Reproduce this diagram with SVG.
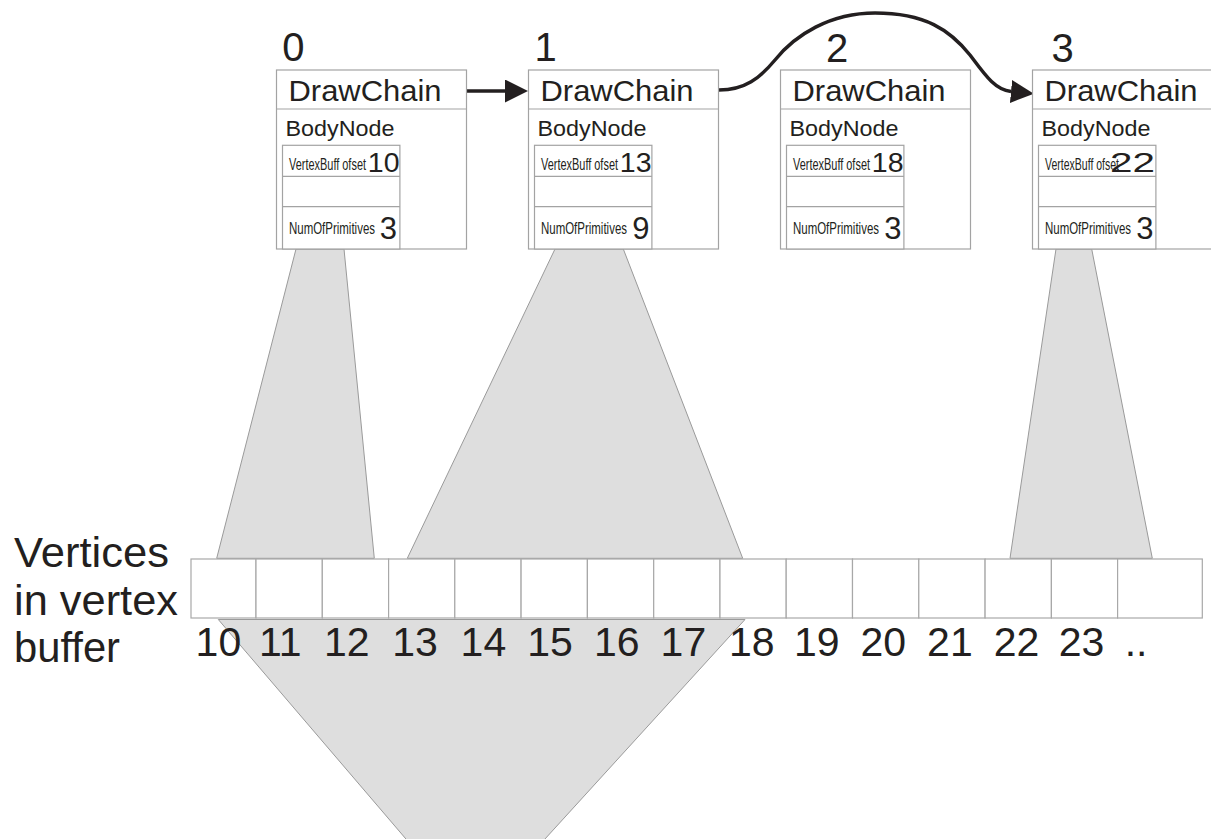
<svg xmlns="http://www.w3.org/2000/svg" width="1211" height="839" viewBox="0 0 1211 839">
  <defs>
    <style>
      text { font-family: "Liberation Sans", Arial, sans-serif; fill: #231f20; }
      .idx { font-size: 40px; }
      .title { font-size: 29.5px; }
      .body { font-size: 22px; }
      .small { font-size: 16.5px; }
      .val { font-size: 28.5px; }
      .cnt { font-size: 31px; }
      .vnum { font-size: 41px; }
      .side { font-size: 42px; }
      .box { fill: #ffffff; stroke: #a3a3a3; stroke-width: 1.2; }
      .rule { stroke: #a3a3a3; stroke-width: 1.2; fill: none; }
      .funnel { fill: #dedede; stroke: #9a9a9a; stroke-width: 1; }
      .cell { fill: #ffffff; stroke: #a8a8a8; stroke-width: 1.2; }
      .link { fill: none; stroke: #231f20; stroke-width: 3.5; }
    </style>
    <marker id="head" markerUnits="userSpaceOnUse" markerWidth="26" markerHeight="26" refX="0" refY="11.5" orient="auto">
      <path d="M0,0 L23,11.5 L0,23 z" fill="#231f20"/>
    </marker>
  </defs>

  <!-- ranges of the vertex buffer used by each chain element -->
  <g id="funnels">
    <polygon class="funnel" points="296,249 344,249 374.3,558.3 216.7,558.3"/>
    <polygon class="funnel" points="555,249 623.3,249 742.7,558.3 407.3,558.3"/>
    <polygon class="funnel" points="1056,249 1091.7,249 1152.3,558.3 1010,558.3"/>
    <polygon class="funnel" points="218.3,619.5 745,619.5 539.5,845 411.1,845"/>
  </g>

  <!-- links between chain elements -->
  <g id="connectors">
    <path class="link" d="M467,91 H505" marker-end="url(#head)"/>
    <path class="link" d="M719,90 C745,90 760,78 775,60 C795,35 830,13 875,13 C925,13 950,30 970,55 C985,75 995,90 1011,91.5" marker-end="url(#head)"/>
  </g>

  <!-- chain element 0 -->
  <g id="node0">
    <text class="idx" x="282.3" y="61">0</text>
    <rect class="box" x="276.5" y="70" width="190" height="179"/>
    <line class="rule" x1="276.5" y1="109" x2="466.5" y2="109"/>
    <text class="title" x="288.5" y="101" textLength="153" lengthAdjust="spacingAndGlyphs">DrawChain</text>
    <text class="body" x="285.5" y="135.7" textLength="109" lengthAdjust="spacingAndGlyphs">BodyNode</text>
    <rect class="box" x="282.5" y="145.3" width="117.4" height="103.7"/>
    <line class="rule" x1="282.5" y1="176.3" x2="399.9" y2="176.3"/>
    <line class="rule" x1="282.5" y1="206.7" x2="399.9" y2="206.7"/>
    <text class="small" x="289" y="169.5" textLength="77" lengthAdjust="spacingAndGlyphs">VertexBuff ofset</text>
    <text class="val" x="399.5" y="172.3" text-anchor="end">10</text>
    <text class="small" x="289" y="234.3" textLength="86" lengthAdjust="spacingAndGlyphs">NumOfPrimitives</text>
    <text class="cnt" x="397" y="239.3" text-anchor="end">3</text>
  </g>

  <!-- chain element 1 -->
  <g id="node1">
    <text class="idx" x="534.6" y="61">1</text>
    <rect class="box" x="528.5" y="70" width="190" height="179"/>
    <line class="rule" x1="528.5" y1="109" x2="718.5" y2="109"/>
    <text class="title" x="540.5" y="101" textLength="153" lengthAdjust="spacingAndGlyphs">DrawChain</text>
    <text class="body" x="537.5" y="135.7" textLength="109" lengthAdjust="spacingAndGlyphs">BodyNode</text>
    <rect class="box" x="534.5" y="145.3" width="117.4" height="103.7"/>
    <line class="rule" x1="534.5" y1="176.3" x2="651.9" y2="176.3"/>
    <line class="rule" x1="534.5" y1="206.7" x2="651.9" y2="206.7"/>
    <text class="small" x="541" y="169.5" textLength="77" lengthAdjust="spacingAndGlyphs">VertexBuff ofset</text>
    <text class="val" x="651.5" y="172.3" text-anchor="end">13</text>
    <text class="small" x="541" y="234.3" textLength="86" lengthAdjust="spacingAndGlyphs">NumOfPrimitives</text>
    <text class="cnt" x="649.5" y="239.3" text-anchor="end">9</text>
  </g>

  <!-- chain element 2 -->
  <g id="node2">
    <text class="idx" x="826" y="61.5">2</text>
    <rect class="box" x="780.5" y="70" width="190" height="179"/>
    <line class="rule" x1="780.5" y1="109" x2="970.5" y2="109"/>
    <text class="title" x="792.5" y="101" textLength="153" lengthAdjust="spacingAndGlyphs">DrawChain</text>
    <text class="body" x="789.5" y="135.7" textLength="109" lengthAdjust="spacingAndGlyphs">BodyNode</text>
    <rect class="box" x="786.5" y="145.3" width="117.4" height="103.7"/>
    <line class="rule" x1="786.5" y1="176.3" x2="903.9" y2="176.3"/>
    <line class="rule" x1="786.5" y1="206.7" x2="903.9" y2="206.7"/>
    <text class="small" x="793" y="169.5" textLength="77" lengthAdjust="spacingAndGlyphs">VertexBuff ofset</text>
    <text class="val" x="903.5" y="172.3" text-anchor="end">18</text>
    <text class="small" x="793" y="234.3" textLength="86" lengthAdjust="spacingAndGlyphs">NumOfPrimitives</text>
    <text class="cnt" x="901.5" y="239.3" text-anchor="end">3</text>
  </g>

  <!-- chain element 3 -->
  <g id="node3">
    <text class="idx" x="1051.6" y="61.5">3</text>
    <rect class="box" x="1032.5" y="70" width="190" height="179"/>
    <line class="rule" x1="1032.5" y1="109" x2="1222.5" y2="109"/>
    <text class="title" x="1044.5" y="101" textLength="153" lengthAdjust="spacingAndGlyphs">DrawChain</text>
    <text class="body" x="1041.5" y="135.7" textLength="109" lengthAdjust="spacingAndGlyphs">BodyNode</text>
    <rect class="box" x="1038.5" y="145.3" width="117.4" height="103.7"/>
    <line class="rule" x1="1038.5" y1="176.3" x2="1155.9" y2="176.3"/>
    <line class="rule" x1="1038.5" y1="206.7" x2="1155.9" y2="206.7"/>
    <text class="small" x="1045" y="169.5" textLength="74" lengthAdjust="spacingAndGlyphs">VertexBuff ofset</text>
    <text class="val" x="1110" y="172.3" textLength="45" lengthAdjust="spacingAndGlyphs">22</text>
    <text class="small" x="1045" y="234.3" textLength="86" lengthAdjust="spacingAndGlyphs">NumOfPrimitives</text>
    <text class="cnt" x="1153.5" y="239.3" text-anchor="end">3</text>
  </g>

  <!-- vertex buffer -->
  <g id="vertex-buffer">
    <rect class="cell" x="191" y="559" width="65" height="59"/>
    <rect class="cell" x="256" y="559" width="66.3" height="59"/>
    <rect class="cell" x="322.3" y="559" width="66.3" height="59"/>
    <rect class="cell" x="388.6" y="559" width="66.2" height="59"/>
    <rect class="cell" x="454.8" y="559" width="66.3" height="59"/>
    <rect class="cell" x="521.1" y="559" width="66.3" height="59"/>
    <rect class="cell" x="587.4" y="559" width="66.3" height="59"/>
    <rect class="cell" x="653.7" y="559" width="66.3" height="59"/>
    <rect class="cell" x="720" y="559" width="66.2" height="59"/>
    <rect class="cell" x="786.2" y="559" width="66.3" height="59"/>
    <rect class="cell" x="852.5" y="559" width="66.3" height="59"/>
    <rect class="cell" x="918.8" y="559" width="66.3" height="59"/>
    <rect class="cell" x="985.1" y="559" width="66.3" height="59"/>
    <rect class="cell" x="1051.4" y="559" width="66.2" height="59"/>
    <rect class="cell" x="1117.6" y="559" width="84.7" height="59"/>

    <text class="vnum" x="195.6" y="656">10</text>
    <text class="vnum" x="258.9" y="656">11</text>
    <text class="vnum" x="323.9" y="656">12</text>
    <text class="vnum" x="392.3" y="656">13</text>
    <text class="vnum" x="460.6" y="656">14</text>
    <text class="vnum" x="527.3" y="656">15</text>
    <text class="vnum" x="593.9" y="656">16</text>
    <text class="vnum" x="660.6" y="656">17</text>
    <text class="vnum" x="728.9" y="656">18</text>
    <text class="vnum" x="793.9" y="656">19</text>
    <text class="vnum" x="860.5" y="656">20</text>
    <text class="vnum" x="927.1" y="656">21</text>
    <text class="vnum" x="993.8" y="656">22</text>
    <text class="vnum" x="1058.8" y="656">23</text>
    <text class="vnum" x="1124.7" y="656">..</text>
  </g>

  <g id="buffer-label">
    <text class="side" x="14" y="566.7" textLength="155" lengthAdjust="spacingAndGlyphs">Vertices</text>
    <text class="side" x="14" y="615" textLength="164" lengthAdjust="spacingAndGlyphs">in vertex</text>
    <text class="side" x="14" y="661.7" textLength="106" lengthAdjust="spacingAndGlyphs">buffer</text>
  </g>
</svg>
